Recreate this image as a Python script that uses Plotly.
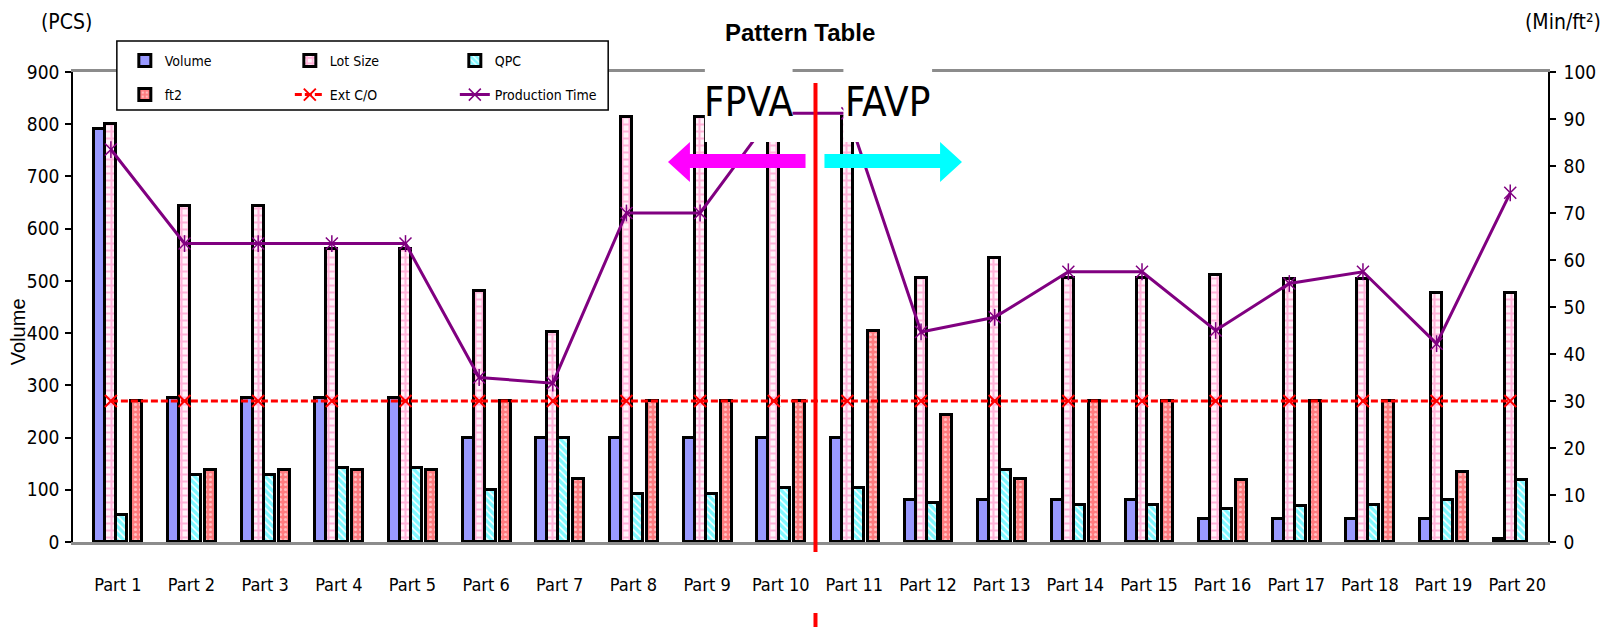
import numpy as np
import plotly.graph_objects as go

# ---- data -------------------------------------------------------------
parts = ["Part 1", "Part 2", "Part 3", "Part 4", "Part 5", "Part 6", "Part 7",
         "Part 8", "Part 9", "Part 10", "Part 11", "Part 12", "Part 13", "Part 14",
         "Part 15", "Part 16", "Part 17", "Part 18", "Part 19", "Part 20"]

volume = [790, 275, 275, 275, 275, 200, 200, 200, 200, 200,
          200, 80, 80, 80, 80, 45, 45, 45, 45, 5]
lot_size = [800, 643, 643, 562, 562, 481, 402, 813, 813, 813,
            813, 506, 544, 506, 506, 512, 504, 504, 477, 477]
qpc = [51, 128, 128, 142, 142, 100, 200, 91, 91, 104,
       104, 75, 137, 70, 70, 64, 68, 70, 81, 118]
ft2 = [270, 137, 137, 137, 137, 270, 120, 270, 270, 270,
       405, 243, 120, 270, 270, 118, 270, 270, 134, None]
ext_co = [30, 30, 30, 30, 30, 30, 30, 30, 30, 30,
          30, 30, 30, 30, 30, 30, 30, 30, 30, 30]
prod_time = [83.5, 63.5, 63.5, 63.5, 63.5, 35.0, 33.8, 70.0, 70.0, 91.2,
             91.2, 44.7, 47.8, 57.5, 57.5, 45.0, 55.0, 57.5, 42.2, 74.3]

left_ticks = [0, 100, 200, 300, 400, 500, 600, 700, 800, 900]
right_ticks = [0, 10, 20, 30, 40, 50, 60, 70, 80, 90, 100]

# ---- geometry / style ---------------------------------------------------
W, H = 1608, 627
M_L, M_R, M_T, M_B = 73, 55, 72, 85
PLOT_W = W - M_L - M_R
PLOT_H = H - M_T - M_B

NARROW = "Liberation Sans Narrow, Arial Narrow, DejaVu Sans Condensed, Liberation Sans, sans-serif"
SANS = "Liberation Sans, Arial, sans-serif"

def px_x(px):
    return (px - M_L) / PLOT_W

def px_y(py):
    return (H - M_B - py) / PLOT_H

idx = np.arange(len(parts))
bar_w = 0.149
vol_off, lot_off, qpc_off, ft2_off = -0.318, -0.169, -0.020, 0.183
line_x = idx + lot_off + bar_w / 2
outline = dict(color="black", width=3)

fig = go.Figure()

fig.add_trace(go.Bar(
    x=idx, y=volume, name="Volume", offset=vol_off, width=bar_w,
    marker=dict(color="#9999FF", line=outline), legend="legend"))
fig.add_trace(go.Bar(
    x=idx, y=lot_size, name="Lot Size", offset=lot_off, width=bar_w,
    marker=dict(color="white", line=outline,
                pattern=dict(shape="+", fgcolor="#FF6FB7", bgcolor="#FFF4FA",
                             size=7, solidity=0.5)),
    legend="legend"))
fig.add_trace(go.Bar(
    x=idx, y=qpc, name="QPC", offset=qpc_off, width=bar_w,
    marker=dict(color="white", line=outline,
                pattern=dict(shape="\\", fgcolor="#00F0FF", bgcolor="white",
                             size=5, solidity=0.7)),
    legend="legend"))
fig.add_trace(go.Bar(
    x=idx, y=ft2, name="ft2", offset=ft2_off, width=bar_w,
    marker=dict(color="#FF7C80", line=outline,
                pattern=dict(shape=".", fgcolor="white", bgcolor="#FF7C80",
                             size=5, solidity=0.3)),
    legend="legend2"))

fig.add_trace(go.Scatter(
    x=line_x, y=ext_co, yaxis="y2", name="Ext C/O", mode="lines+markers",
    line=dict(color="#FF0000", width=3, dash="7px,3px"),
    marker=dict(symbol="x-thin", size=12, line=dict(color="#FF0000", width=2)),
    legend="legend2"))
fig.add_trace(go.Scatter(
    x=line_x, y=prod_time, yaxis="y2", name="Production Time", mode="lines+markers",
    line=dict(color="#800080", width=3),
    marker=dict(symbol="x-thin", size=12, line=dict(color="#800080", width=1.5)),
    legend="legend2"))
# vertical stroke of the star markers
fig.add_trace(go.Scatter(
    x=line_x, y=prod_time, yaxis="y2", mode="markers", showlegend=False,
    hoverinfo="skip",
    marker=dict(symbol="line-ns", size=12, line=dict(color="#800080", width=1.5))))

# ---- shapes -------------------------------------------------------------
shapes = []
# legend frame
shapes.append(dict(type="rect", xref="paper", yref="paper",
                   x0=px_x(117), x1=px_x(610), y0=px_y(110), y1=px_y(41),
                   fillcolor="white", line=dict(color="black", width=1.5),
                   layer="above"))

def xu(px):
    return (px - 118) / 73.9

def yu(py):
    return (H - M_B - py) / (PLOT_H / 900)

# white label boxes
for bx0, bx1 in [(707, 795), (846, 935)]:
    shapes.append(dict(type="rect", xref="x", yref="paper",
                       x0=xu(bx0), x1=xu(bx1), y0=px_y(142), y1=px_y(60),
                       fillcolor="white", line=dict(width=0), layer="above"))
# divider between FPVA and FAVP groups
div_x = xu(818)
shapes.append(dict(type="line", xref="x", yref="paper", x0=div_x, x1=div_x,
                   y0=px_y(83), y1=px_y(552),
                   line=dict(color="#FF0000", width=4), layer="above"))
shapes.append(dict(type="line", xref="x", yref="paper", x0=div_x, x1=div_x,
                   y0=px_y(613), y1=px_y(640),
                   line=dict(color="#FF0000", width=4), layer="above"))

# direction arrows
def arrow_path(tail, base, tip):
    return (f"M{xu(tail)},{yu(154)} L{xu(base)},{yu(154)} L{xu(base)},{yu(142)} "
            f"L{xu(tip)},{yu(162)} L{xu(base)},{yu(182)} L{xu(base)},{yu(168)} "
            f"L{xu(tail)},{yu(168)} Z")

shapes.append(dict(type="path", xref="x", yref="y", path=arrow_path(808, 692, 670),
                   fillcolor="#FF00FF", line=dict(width=0), layer="above"))
shapes.append(dict(type="path", xref="x", yref="y", path=arrow_path(827, 943, 965),
                   fillcolor="#00FFFF", line=dict(width=0), layer="above"))

# ---- annotations ---------------------------------------------------------
def label(text, x, y, font, xref="paper", angle=0):
    return dict(text=text, xref=xref, yref="paper", x=x, y=y, textangle=angle,
                xanchor="center", yanchor="middle", showarrow=False, font=font)

annotations = [
    label("<b>Pattern Table</b>", px_x(802), px_y(33),
          dict(family=SANS, size=24, color="black")),
    label("FPVA", xu(751), px_y(102), dict(family=NARROW, size=40, color="black"), xref="x"),
    label("FAVP", xu(890), px_y(102), dict(family=NARROW, size=40, color="black"), xref="x"),
    label("(PCS)", px_x(66), px_y(22), dict(family=NARROW, size=21, color="black")),
    label("(Min/ft²)", px_x(1568), px_y(22), dict(family=NARROW, size=21, color="black")),
    label("Volume", px_x(18), px_y(332), dict(family=SANS, size=20, color="black"), angle=-90),
]

axis_font = dict(family=NARROW, size=19, color="black")
leg_common = dict(orientation="h", bgcolor="rgba(0,0,0,0)", borderwidth=0,
                  font=dict(family=NARROW, size=14, color="black"),
                  entrywidth=120, entrywidthmode="pixels",
                  xanchor="left", yanchor="middle", itemwidth=30)

fig.update_layout(
    width=W, height=H,
    margin=dict(l=M_L, r=M_R, t=M_T, b=M_B, pad=0),
    paper_bgcolor="white", plot_bgcolor="white",
    barmode="overlay", bargap=0,
    font=dict(family=NARROW, color="black"),
    xaxis=dict(range=[-0.609, 19.418], tickmode="array", tickvals=idx, ticktext=parts,
               showline=True, linecolor="#8C8C8C", linewidth=3, mirror=True,
               ticks="", showgrid=False, zeroline=False,
               tickfont=dict(family=NARROW, size=18, color="black"),
               ticklabelstandoff=24),
    yaxis=dict(range=[0, 900], tickmode="array", tickvals=left_ticks,
               showline=True, linecolor="black", linewidth=1.5,
               ticks="outside", ticklen=6, tickcolor="black", tickwidth=1.5,
               showgrid=False, zeroline=False, tickfont=axis_font,
               ticklabelstandoff=2),
    yaxis2=dict(range=[0, 100], tickmode="array", tickvals=right_ticks,
                overlaying="y", side="right",
                showline=True, linecolor="black", linewidth=1.5,
                ticks="outside", ticklen=6, tickcolor="black", tickwidth=1.5,
                showgrid=False, zeroline=False, tickfont=axis_font,
                ticklabelstandoff=4),
    legend=dict(x=px_x(125), y=px_y(61), **leg_common),
    legend2=dict(x=px_x(125), y=px_y(95), **leg_common),
    shapes=shapes,
    annotations=annotations,
)

fig.write_html("out.html")
